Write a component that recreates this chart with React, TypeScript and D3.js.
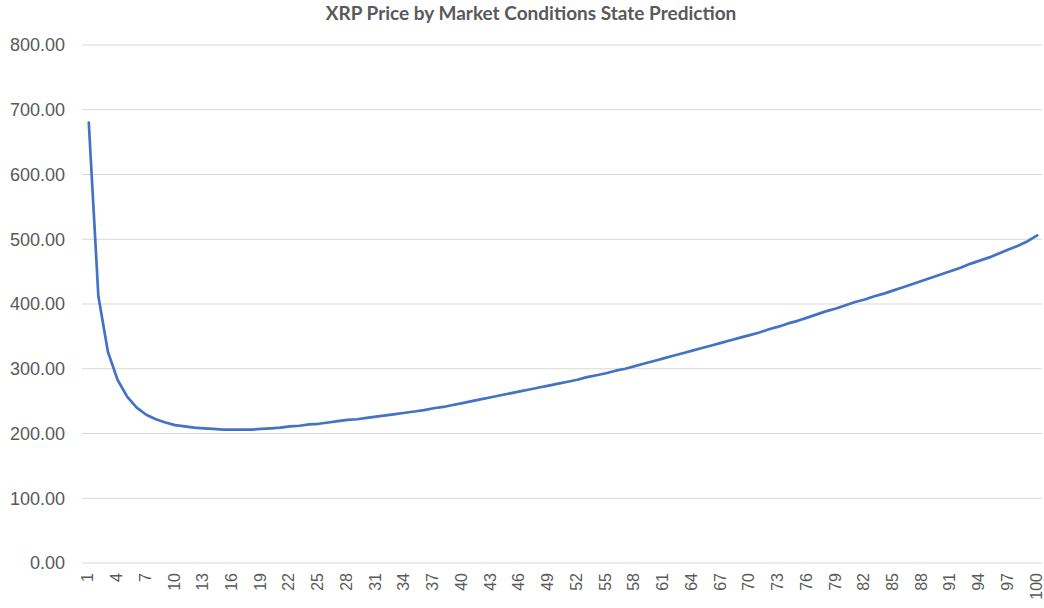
import React from "react";
import * as d3 from "d3";

const TITLE = "XRP Price by Market Conditions State Prediction";
const periods: number[] = Array.from({ length: 100 }, (_, i) => i + 1);
const prices: number[] = [
  680, 412, 326, 283, 257, 240, 229, 222, 217, 213,
  211, 209, 208, 207, 206, 206, 206, 206, 207, 208,
  209, 211, 212, 214, 215, 217, 219, 221, 222, 224,
  226, 228, 230, 232, 234, 236, 239, 241, 244, 247,
  250, 253, 256, 259, 262, 265, 268, 271, 274, 277,
  280, 283, 287, 290, 293, 297, 300, 304, 308, 312,
  316, 320, 324, 328, 332, 336, 340, 344, 348, 352,
  356, 361, 365, 370, 374, 379, 384, 389, 393, 398,
  403, 407, 412, 416, 421, 426, 431, 436, 441, 446,
  451, 456, 462, 467, 472, 478, 484, 490, 497, 506,
];
const yTicks: number[] = [0, 100, 200, 300, 400, 500, 600, 700, 800];
const xTickLabels: number[] = periods.filter((p) => (p - 1) % 3 === 0);

export default function App() {
  const W = 1044;
  const H = 608;
  const left = 84;
  const right = 1042;
  const top = 45;
  const bottom = 563;

  const x = d3
    .scaleBand<number>()
    .domain(periods)
    .range([left, right])
    .paddingInner(0)
    .paddingOuter(0);
  const y = d3.scaleLinear().domain([0, 800]).range([bottom, top]);

  const line = d3
    .line<number>()
    .x((_, i) => (x(periods[i]) as number) + x.bandwidth() / 2)
    .y((d) => y(d));

  const gray = "#595959";

  return (
    <svg
      width={W}
      height={H}
      style={{ position: "absolute", left: 0, top: 0, background: "#fff" }}
    >
      <text
        x={531}
        y={20}
        textAnchor="middle"
        fontFamily="Lato, 'Open Sans', sans-serif"
        fontWeight="bold"
        fontSize={19}
        fill={gray}
      >
        {TITLE}
      </text>
      {yTicks.map((t) => (
        <g key={t}>
          <line
            x1={82}
            x2={right}
            y1={y(t)}
            y2={y(t)}
            stroke="#d9d9d9"
            strokeWidth={1.2}
          />
          <text
            x={65}
            y={y(t)}
            dy="0.35em"
            textAnchor="end"
            fontFamily="'Liberation Sans', Arial, sans-serif"
            fontSize={18}
            fill={gray}
          >
            {d3.format(".2f")(t)}
          </text>
        </g>
      ))}
      {xTickLabels.map((p) => {
        const cx = (x(p) as number) + x.bandwidth() / 2;
        return (
          <text
            key={p}
            transform={`translate(${cx + 4.5},${573}) rotate(-90)`}
            textAnchor="end"
            fontFamily="'Liberation Sans', Arial, sans-serif"
            fontSize={16}
            fill={gray}
          >
            {p}
          </text>
        );
      })}
      <path
        d={line(prices) || ""}
        fill="none"
        stroke="#4472C4"
        strokeWidth={2.7}
        strokeLinejoin="round"
        strokeLinecap="round"
      />
    </svg>
  );
}
